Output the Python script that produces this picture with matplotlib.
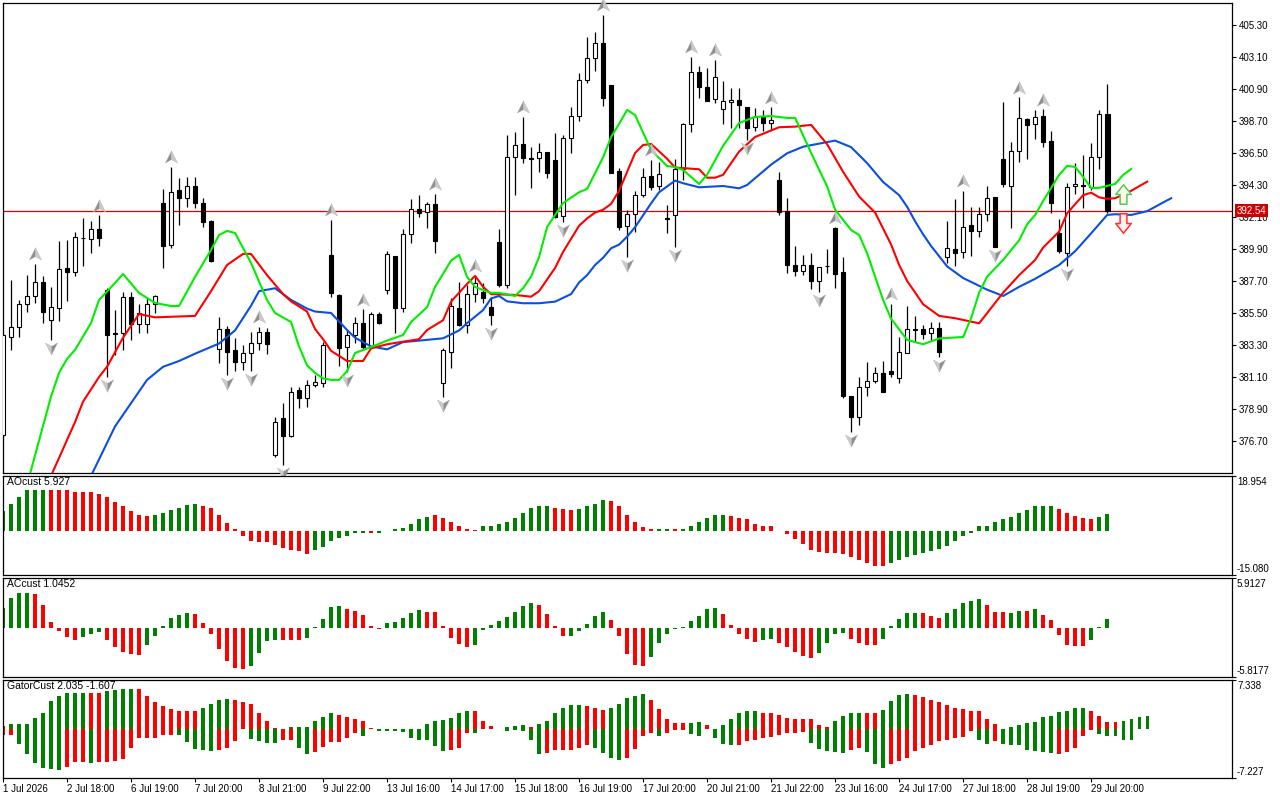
import numpy as np
import matplotlib
matplotlib.use("Agg")
import matplotlib.pyplot as plt
from matplotlib.path import Path
from matplotlib.transforms import ScaledTranslation, blended_transform_factory

plt.rcParams['font.family'] = ['Liberation Sans', 'DejaVu Sans']
plt.rcParams['font.size'] = 7

# ---------------- data ----------------
opens = [377.12, 383.88, 384.56, 386.12, 386.67, 387.61, 385.02, 385.82, 388.58, 388.35,
         390.64, 390.57, 391.26, 387.08, 384.10, 384.10, 386.58, 384.75, 384.75, 386.12,
         393.04, 390.18, 393.96, 393.39, 394.24, 393.09, 391.85, 383.03, 384.40, 382.96,
         382.16, 382.73, 383.42, 384.17, 375.74, 378.26, 377.05, 380.21, 379.64, 380.55,
         380.71, 389.49, 386.74, 383.19, 383.99, 384.79, 383.19, 385.41, 387.08, 389.42,
         385.82, 390.91, 392.63, 392.42, 392.99, 380.71, 382.84, 385.82, 384.68, 386.81,
         386.92, 385.94, 390.36, 387.43, 396.20, 397.10, 396.13, 396.13, 396.55, 396.02,
         392.17, 397.51, 399.07, 401.52, 403.01, 404.04, 401.18, 395.29, 391.51, 392.31,
         393.62, 394.92, 394.23, 392.06, 392.24, 395.38, 398.47, 402.05, 401.02, 400.19,
         399.51, 399.99, 400.12, 399.64, 398.31, 398.96, 398.59, 394.65, 392.52, 388.78,
         388.41, 388.78, 387.73, 388.71, 391.32, 388.30, 379.77, 378.38, 380.39, 380.83,
         381.36, 381.54, 381.01, 382.78, 384.34, 384.38, 384.11, 384.45, 389.33, 389.88,
         389.72, 391.55, 391.16, 392.31, 393.46, 396.09, 394.26, 396.64, 398.82, 398.47,
         399.05, 397.33, 390.98, 389.61, 394.21, 394.30, 394.19, 396.25, 399.16]
highs = [384.10, 387.77, 386.40, 388.12, 388.87, 388.05, 387.31, 390.48, 390.52, 391.07,
         392.01, 391.85, 392.22, 387.20, 385.71, 386.97, 386.97, 386.12, 386.51, 386.76,
         394.00, 395.56, 394.76, 394.83, 394.83, 393.39, 391.90, 385.25, 384.63, 383.76,
         383.30, 384.22, 384.56, 384.45, 378.38, 379.29, 380.44, 380.39, 380.90, 381.24,
         383.53, 391.90, 386.78, 384.33, 385.25, 385.75, 385.57, 385.59, 389.79, 389.45,
         391.25, 393.32, 393.61, 393.11, 393.68, 383.07, 386.51, 387.66, 387.43, 388.05,
         387.59, 386.62, 391.25, 397.74, 397.97, 399.00, 396.94, 397.17, 396.59, 397.85,
         397.74, 399.64, 402.02, 404.45, 404.84, 405.99, 401.18, 395.45, 392.59, 393.89,
         395.50, 396.02, 395.91, 392.93, 396.07, 398.59, 403.13, 402.49, 402.32, 402.90,
         401.45, 400.99, 400.99, 399.64, 399.57, 399.46, 399.64, 395.17, 393.39, 390.11,
         389.47, 389.61, 388.69, 389.88, 391.39, 389.38, 379.77, 381.13, 382.16, 381.81,
         382.20, 386.12, 383.88, 385.98, 385.30, 384.68, 384.91, 384.91, 391.83, 393.34,
         393.89, 392.81, 392.81, 394.24, 393.50, 400.03, 397.28, 400.33, 398.89, 399.42,
         399.51, 398.02, 391.94, 394.42, 395.79, 396.37, 397.21, 399.42, 401.25]
lows = [376.90, 382.96, 383.88, 385.55, 386.17, 384.79, 383.65, 384.98, 386.33, 388.07,
        388.76, 389.65, 390.11, 381.13, 382.62, 382.96, 383.65, 384.10, 384.10, 385.48,
        388.57, 389.95, 391.55, 392.77, 392.70, 391.44, 389.03, 382.04, 381.24, 381.54,
        381.58, 381.50, 382.96, 382.69, 375.63, 375.05, 376.96, 378.95, 379.06, 380.39,
        380.39, 386.62, 381.86, 381.47, 383.46, 382.96, 383.07, 384.74, 386.81, 384.15,
        385.59, 390.29, 392.08, 391.37, 389.60, 379.75, 381.70, 384.61, 384.10, 386.28,
        386.17, 384.68, 387.31, 387.20, 393.61, 395.79, 394.07, 395.22, 394.76, 392.01,
        391.78, 396.52, 398.72, 401.29, 402.16, 399.73, 395.10, 391.21, 389.38, 391.09,
        393.50, 393.96, 393.96, 390.98, 390.06, 394.65, 397.97, 400.26, 400.10, 399.96,
        398.50, 398.25, 398.25, 397.40, 398.04, 398.04, 398.09, 392.24, 388.23, 388.07,
        388.12, 387.13, 386.97, 388.28, 387.20, 379.64, 377.35, 377.80, 379.82, 380.67,
        380.10, 381.13, 380.67, 382.73, 383.53, 383.69, 383.65, 382.46, 388.92, 388.73,
        389.26, 389.42, 390.75, 391.85, 390.02, 394.14, 391.32, 395.91, 396.09, 397.47,
        396.94, 392.36, 389.65, 388.73, 393.69, 392.70, 393.96, 395.40, 392.40]
closes = [383.99, 384.56, 386.12, 386.67, 387.61, 385.55, 385.89, 388.53, 388.35, 390.71,
          390.66, 391.26, 390.64, 383.99, 384.06, 386.58, 384.75, 385.48, 386.12, 386.70,
          390.13, 393.85, 393.39, 394.24, 393.09, 391.78, 389.10, 384.40, 382.85, 382.16,
          382.73, 383.42, 384.17, 383.37, 378.03, 377.05, 380.10, 379.64, 380.55, 380.74,
          383.30, 386.85, 383.07, 383.99, 384.79, 383.19, 385.43, 384.84, 389.56, 385.82,
          390.91, 392.63, 392.35, 392.99, 390.47, 382.96, 385.98, 384.68, 386.81, 387.59,
          386.56, 385.36, 387.43, 396.20, 397.05, 396.13, 396.09, 396.55, 395.15, 392.08,
          397.51, 399.07, 401.52, 403.01, 404.04, 400.26, 395.15, 391.44, 392.31, 393.62,
          394.88, 394.19, 395.04, 391.94, 395.38, 398.47, 402.05, 401.02, 400.10, 401.75,
          400.08, 400.15, 399.78, 398.25, 398.96, 398.54, 398.77, 392.47, 388.80, 388.41,
          388.78, 387.73, 388.64, 388.76, 388.16, 379.82, 378.38, 380.39, 380.83, 381.36,
          380.10, 381.29, 382.80, 384.38, 384.40, 384.06, 384.45, 382.85, 389.95, 389.65,
          391.39, 391.16, 392.31, 393.39, 390.02, 394.37, 396.64, 398.89, 398.43, 398.96,
          397.24, 393.04, 389.77, 394.14, 394.35, 394.21, 396.25, 399.16, 392.54]

bid_price = 392.54

# Alligator lines (bar index, price)
lips_x = [3, 6, 7, 8, 9, 11, 12, 14, 15, 17, 19, 21, 22, 24, 26, 27, 28, 29, 31, 33,
          34, 36, 37, 38, 39, 40, 41, 42, 43, 44, 46, 48, 50, 51, 53, 54, 56, 57, 58, 59,
          61, 62, 64, 65, 66, 67, 68, 70, 72, 73, 75, 76, 77, 78, 79, 80, 81, 83, 84, 85,
          87, 88, 90, 92, 94, 96, 98, 99, 101, 103, 104, 106, 107, 108, 110, 111, 113, 115,
          117, 120, 121, 122, 123, 125, 127, 128, 129, 130, 132, 133, 134, 135, 136, 137,
          139, 140, 141]
lips = [373.68, 379.75, 381.38, 382.34, 382.96, 384.81, 386.39, 387.56, 388.18, 386.88,
        386.19, 385.98, 385.98, 387.98, 389.83, 390.86, 391.14, 391.0, 388.94, 386.39,
        385.5, 384.88, 383.2, 381.9, 381.38, 381.0, 380.9, 380.9, 381.5, 382.75,
        383.16, 383.6, 383.99, 384.88, 385.9, 387.29, 389.1, 389.49, 387.98, 387.29,
        386.88, 386.88, 386.67, 387.2, 388.0, 389.35, 391.41, 393.06, 393.8, 394.03,
        396.2, 397.6, 398.5, 399.46, 399.11, 397.9, 396.71, 395.6, 395.54, 395.33,
        394.37, 395.0, 397.0, 398.56, 398.98, 399.04, 398.91, 398.91, 396.5, 394.2,
        392.6, 391.2, 390.86, 389.6, 386.39, 385.1, 383.65, 383.35, 383.75, 383.85,
        385.16, 386.9, 388.0, 389.15, 390.5, 391.6, 392.24, 393.2, 395.0, 395.61,
        395.54, 394.85, 394.09, 394.1, 394.37, 394.99, 395.4]
teeth_x = [6, 9, 10, 12, 13, 15, 17, 19, 24, 26, 28, 30, 31, 33, 35, 36, 38, 39, 40, 41,
           43, 45, 46, 48, 52, 53, 55, 56, 58, 59, 60, 61, 64, 66, 67, 68, 69, 70, 72, 73,
           74, 75, 76, 77, 78, 79, 80, 81, 83, 84, 87, 88, 89, 90, 92, 94, 97, 99, 101, 103,
           105, 107, 109, 110, 111, 112, 113, 114, 115, 117, 119, 122, 124, 125, 127, 129,
           130, 132, 133, 135, 136, 137, 138, 139, 141, 143]
teeth = [374.3, 378.0, 379.4, 381.1, 381.8, 383.8, 385.43, 385.2, 385.3, 387.0,
         388.8, 389.56, 389.56, 388.1, 386.8, 386.3, 385.6, 384.4, 383.7, 382.9,
         382.2, 382.2, 383.07, 383.35, 383.7, 384.33, 385.0, 386.28, 387.5, 388.05,
         387.3, 386.8, 386.74, 386.62, 387.0, 387.8, 388.6, 389.7, 391.5, 392.0,
         392.4, 392.6, 393.0, 393.9, 395.2, 396.5, 397.05, 397.12, 396.1, 395.5,
         395.38, 394.8, 394.8, 395.0, 396.6, 397.6, 398.27, 398.31, 398.43, 397.1,
         395.2, 393.5, 392.4, 391.3, 390.2, 388.8, 387.7, 386.9, 386.1, 385.3,
         385.14, 384.79, 386.2, 386.9, 388.1, 389.15, 390.0, 391.1, 392.36, 393.6,
         393.77, 393.45, 393.35, 393.39, 393.9, 394.53]
jaw_x = [11, 14, 16, 18, 20, 22, 24, 27, 29, 31, 32, 34, 36, 38, 39, 41, 43, 44, 46, 48,
         50, 52, 55, 57, 58, 60, 61, 62, 63, 65, 67, 69, 71, 72, 73, 74, 75, 76, 77, 78,
         79, 81, 82, 84, 85, 87, 90, 92, 93, 96, 98, 100, 103, 104, 106, 108, 110, 112,
         113, 114, 115, 116, 118, 120, 123, 125, 127, 129, 132, 134, 136, 138, 139, 141,
         143, 145, 146]
jaw = [374.3, 377.7, 379.3, 380.9, 381.8, 382.2, 382.7, 383.4, 384.3, 386.0,
       387.0, 387.2, 386.4, 385.8, 385.6, 385.5, 384.33, 383.8, 383.2, 383.0,
       383.5, 383.6, 383.76, 384.3, 384.8, 385.7, 386.5, 386.67, 386.3, 386.17,
       386.17, 386.28, 386.8, 387.6, 388.1, 388.8, 389.3, 389.95, 390.2, 390.75,
       391.4, 393.04, 393.8, 394.6, 394.42, 394.14, 394.23, 394.07, 394.3, 395.7,
       396.48, 396.93, 397.25, 397.35, 396.9, 395.8, 394.5, 393.6, 392.8, 391.8,
       390.9, 390.1, 388.7, 387.9, 387.1, 386.67, 387.3, 387.85, 388.8, 389.75,
       390.98, 392.24, 392.29, 392.24, 392.5, 393.1, 393.39]

frac_up_idx = [4, 12, 21, 32, 41, 45, 54, 59, 65, 75, 81, 86, 89, 96, 104, 111, 120, 127, 130]
frac_dn_idx = [6, 13, 28, 31, 35, 43, 55, 61, 70, 78, 84, 93, 102, 106, 117, 124, 133]

signal_idx = 140
signal_up_price = 393.68
signal_dn_price = 391.66

price_ticks = [405.30, 403.10, 400.90, 398.70, 396.50, 394.30, 392.10, 389.90,
               387.70, 385.50, 383.30, 381.10, 378.90, 376.70]
price_range = (374.50, 406.81)

ao = [6.9, 9.2, 11.7, 14.1, 14.1, 14.1, 14.1, 14.1, 14.3, 13.4,
      13.4, 13.4, 12.9, 11.6, 9.9, 8.5, 6.9, 5.4, 5.2, 5.4,
      6.1, 7.2, 7.9, 8.9, 9.5, 8.8, 7.9, 5.7, 2.7, 0.7,
      -1.7, -3.4, -3.8, -3.8, -4.8, -5.8, -6.6, -7.0, -7.7, -6.5,
      -5.5, -3.4, -2.4, -1.7, -0.7, -0.5, -0.7, -0.7, 0.2, 0.6,
      1.1, 2.6, 4.1, 4.8, 5.4, 4.5, 3.3, 1.9, 0.9, 0.3,
      1.6, 1.6, 2.3, 3.0, 4.5, 6.1, 7.8, 8.8, 8.8, 8.1,
      7.6, 7.3, 7.6, 8.5, 9.5, 10.7, 10.3, 8.5, 5.7, 3.3,
      1.5, 0.7, 0.7, 0.7, 0.7, 0.9, 1.9, 3.0, 4.5, 5.4,
      5.7, 5.2, 4.6, 4.1, 2.6, 1.9, 1.6, 0.2, -0.9, -2.6,
      -4.5, -6.5, -7.2, -7.6, -7.6, -8.0, -8.8, -9.9, -11.0, -12.0,
      -12.0, -11.0, -9.9, -9.0, -8.1, -7.4, -6.9, -6.3, -5.2, -3.4,
      -1.7, -0.5, 1.6, 1.9, 3.0, 4.1, 4.9, 6.2, 7.2, 8.5,
      8.8, 8.8, 7.6, 6.1, 5.2, 4.5, 4.1, 5.0, 5.93]
ao_colors = ("gggggg" "rrrrrrrrrrrrr" "gggggg" "rrrrrrrrrrrrrr" "ggggggg" "r" "ggggggg"
             "rrrrrr" "ggggggggg" "rrr" "gggg" "rrrrrr" "gg" "r" "gggggg"
             "rrrrrrrrrrrrrrrrrrrr" "ggggggggggggggggggggg" "rrrrr" "gg")
ao_range = (-15.080, 18.954)
ao_title = "AOcust 5.927"

ac = [2.37, 3.56, 4.15, 4.15, 4.03, 2.73, 0.71, -0.32, -1.07, -1.38,
      -1.07, -0.67, -0.43, -1.38, -2.25, -2.81, -3.04, -3.2, -1.98, -0.91,
      0.24, 1.19, 1.58, 1.82, 1.66, 0.63, -0.67, -2.45, -3.87, -4.74,
      -4.82, -4.5, -2.92, -1.5, -1.38, -1.38, -1.38, -1.38, -1.19, 0.08,
      1.11, 2.45, 2.61, 2.25, 2.02, 1.54, 0.24, -0.08, 0.63, 0.71,
      1.19, 1.82, 2.13, 1.9, 1.9, 0.24, -1.19, -1.9, -2.25, -2.02,
      -0.2, 0.32, 0.87, 1.34, 1.9, 2.61, 3.0, 2.77, 1.7, 0.24,
      -0.91, -0.91, -0.32, 0.47, 1.42, 1.94, 0.95, -0.91, -3.08, -4.39,
      -4.5, -3.4, -1.74, -0.71, -0.08, 0.16, 0.83, 1.42, 2.29, 2.37,
      1.66, 0.36, -0.71, -1.3, -1.62, -1.46, -1.3, -1.78, -2.25, -2.81,
      -3.32, -3.52, -2.92, -1.82, -0.67, -0.55, -1.3, -1.74, -1.98, -1.98,
      -1.3, 0.24, 1.11, 1.74, 1.82, 1.82, 1.42, 1.19, 1.74, 2.29,
      2.92, 3.24, 3.48, 2.77, 1.9, 1.9, 1.82, 2.06, 2.06, 2.29,
      1.58, 0.95, -0.79, -1.98, -2.13, -2.13, -1.42, 0.16, 1.05]
ac_colors = ("gggg" "rrrrrr" "ggg" "rrrrr" "gggggg" "rrrrrrr" "gggg" "rrr" "ggggg" "rrrrr"
             "ggggg" "rrrrrr" "gggggggg" "rrrr" "ggggg" "rrrrr" "ggggggggg" "rrrrr" "gg"
             "rrrrr" "gggg" "rrrr" "ggggg" "rrr" "ggggg" "rrr" "gg" "r" "g" "rrrrrr" "ggg")
ac_range = (-5.8177, 5.9127)
ac_title = "ACcust 1.0452"

gator_up = [0.5, 0.8, 0.8, 0.8, 1.7, 2.5, 4.2, 4.9, 5.4, 5.4,
            5.4, 5.4, 5.4, 5.7, 5.9, 6.0, 6.0, 6.0, 5.0, 4.0,
            3.5, 3.1, 2.8, 2.7, 2.7, 3.2, 3.8, 4.4, 4.5, 4.4,
            4.1, 3.7, 2.4, 1.2, 0.15, 0.0, 0.3, 0.3, 0.3, 1.2,
            1.9, 2.4, 2.1, 1.9, 1.5, 1.3, 0.2, 0.0, 0.0, 0.0,
            0.0, 0.0, 0.0, 0.8, 1.3, 1.4, 1.7, 2.5, 2.8, 2.8,
            1.3, 0.5, 0.1, 0.4, 0.5, 0.6, 0.4, 0.8, 1.3, 2.4,
            3.2, 3.6, 3.6, 3.4, 3.2, 2.9, 3.2, 3.7, 4.6, 5.0,
            5.2, 4.4, 3.1, 1.6, 0.9, 0.9, 1.0, 1.1, 0.7, 0.0,
            0.6, 1.5, 2.5, 2.7, 2.8, 2.5, 2.4, 2.1, 1.7, 1.6,
            1.5, 1.5, 0.6, 0.3, 1.2, 2.0, 2.5, 2.5, 2.5, 2.5,
            2.9, 4.2, 5.1, 5.3, 5.1, 4.8, 4.3, 4.0, 3.6, 3.2,
            3.0, 2.7, 2.7, 1.6, 0.8, 0.1, 0.4, 0.6, 1.0, 1.1,
            1.8, 2.0, 2.6, 2.8, 3.2, 3.2, 2.8, 2.0, 1.1, 1.1,
            1.3, 1.6, 1.8, 2.04]
gator_up_colors = ("r" "gggggggggg" "rr" "gggg" "rrrrrrrr" "gggg" "rrrrrrr" "gggggg" "rrrrrr"
                   "ggggggggggg" "rrr" "gggg" "r" "gggggg" "rrr" "ggggg" "rrrrr" "gg" "rr"
                   "ggggg" "rrrrrrrrr" "gggg" "rr" "gggg" "rrrrrrrrrrr" "ggggggggggg" "rrrr" "gggg")
gator_dn = [-0.9, -0.8, -2.2, -3.6, -5.0, -5.7, -5.9, -6.0, -5.6, -4.8,
            -4.8, -5.0, -4.8, -4.8, -4.7, -4.4, -2.8, -1.3, -1.3, -1.3,
            -0.9, -0.9, -0.8, -1.9, -2.9, -3.0, -3.2, -3.1, -2.8, -1.8,
            0.0, -1.5, -1.8, -2.0, -2.0, -1.6, -1.6, -2.8, -3.6, -3.3,
            -2.6, -1.9, -1.9, -1.3, -0.6, -1.0, 0.0, -0.2, -0.3, -0.3,
            -0.4, -1.3, -1.6, -1.6, -2.4, -3.2, -3.1, -2.8, -0.6, -0.6,
            0.0, 0.0, 0.0, -0.2, -0.1, -0.3, -1.6, -3.6, -3.5, -3.1,
            -3.1, -3.0, -2.7, -2.3, -2.8, -3.5, -4.3, -4.5, -4.3, -2.9,
            -1.0, -0.6, -1.0, -0.5, -0.1, -0.1, -0.7, -1.0, 0.0, -1.3,
            -2.2, -2.3, -2.3, -1.8, -1.6, -1.3, -1.1, -0.8, -0.6, -0.5,
            -0.4, -2.0, -2.9, -3.2, -3.3, -3.5, -3.0, -2.8, -3.3, -5.1,
            -5.7, -5.1, -4.7, -4.2, -3.2, -2.7, -2.3, -1.8, -1.6, -1.3,
            -1.2, -0.3, -1.6, -2.1, -1.8, -2.1, -2.3, -2.3, -3.0, -3.2,
            -3.3, -3.5, -3.7, -3.4, -2.7, -1.0, -0.1, -0.7, -1.0, -1.0,
            -1.6, -1.61]
gator_dn_colors = ("rr" "gggggg" "rrr" "g" "rrrrrrrrrr" "ggggg" "rrrr" "gggg" "rr" "gg" "rrrrrr"
                   "g" "r" "ggggggggg" "rrr" "g" "rrr" "ggggg" "rrrrrr" "gggg" "rrrr" "g" "rrr"
                   "gg" "r" "ggg" "rrrrrrrrr" "ggggg" "rr" "ggg" "rrrrrrrrrrr" "gg" "r" "ggggggg"
                   "rrrrr" "ggggg")
gator_range = (-7.227, 7.338)
gator_title = "GatorCust 2.035 -1.607"

time_labels = ["1 Jul 2026", "2 Jul 18:00", "6 Jul 19:00", "7 Jul 20:00", "8 Jul 21:00",
               "9 Jul 22:00", "13 Jul 16:00", "14 Jul 17:00", "15 Jul 18:00", "16 Jul 19:00",
               "17 Jul 20:00", "20 Jul 21:00", "21 Jul 22:00", "23 Jul 16:00", "24 Jul 17:00",
               "27 Jul 18:00", "28 Jul 19:00", "29 Jul 20:00"]
time_label_idx = [0, 8, 16, 24, 32, 40, 48, 56, 64, 72, 80, 88, 96, 104, 112, 120, 128, 136]

# ---------------- figure ----------------
W, H = 1280, 800
fig = plt.figure(figsize=(W / 100, H / 100), dpi=100)


def rect(x0, y0, x1, y1):
    return [x0 / W, 1 - y1 / H, (x1 - x0) / W, (y1 - y0) / H]


ax_main = fig.add_axes(rect(3, 3, 1232, 473))
ax_ao = fig.add_axes(rect(3, 476, 1232, 575))
ax_ac = fig.add_axes(rect(3, 578, 1232, 677))
ax_g = fig.add_axes(rect(3, 680, 1232, 778))

XLIM = (0.0, 153.6)
for ax in (ax_main, ax_ao, ax_ac, ax_g):
    ax.set_xlim(*XLIM)
    for sp in ax.spines.values():
        sp.set_color('black')
        sp.set_linewidth(0.9)
    ax.tick_params(axis='x', bottom=False, labelbottom=False)
    ax.tick_params(axis='y', left=False, labelleft=False, right=True, labelright=True,
                   direction='out', length=3, width=0.8, pad=2, labelsize=7, colors='black')

# ---- main chart ----
o = np.array(opens); h = np.array(highs); l = np.array(lows); c = np.array(closes)
x = np.arange(len(o))
bull = c >= o
ax_main.set_ylim(*price_range)
ax_main.set_yticks(price_ticks)
ax_main.set_yticklabels([f"{v:.2f}" for v in price_ticks])

ax_main.axhline(bid_price, color='#e00000', lw=0.9, zorder=1)
ax_main.vlines(x, l, h, color='black', lw=0.9, zorder=2)
body_lo = np.minimum(o, c)
body_h = np.maximum(np.abs(c - o), 0.03)
ax_main.bar(x, body_h, bottom=body_lo, width=0.58,
            color=np.where(bull, 'white', 'black'), edgecolor='black', linewidth=0.8, zorder=3)

ax_main.plot(jaw_x, jaw, color='#0a4fe0', lw=1.5, zorder=4, solid_joinstyle='round')
ax_main.plot(teeth_x, teeth, color='#ff0000', lw=1.5, zorder=4, solid_joinstyle='round')
ax_main.plot(lips_x, lips, color='#00ee00', lw=1.5, zorder=4, solid_joinstyle='round')

# fractal arrows (two-tone arrowheads)
left_half = Path([(0, 1), (-0.8, -0.6), (0, -0.15), (0, 1)],
                 [Path.MOVETO, Path.LINETO, Path.LINETO, Path.CLOSEPOLY])
right_half = Path([(0, 1), (0, -0.15), (0.8, -0.6), (0, 1)],
                  [Path.MOVETO, Path.LINETO, Path.LINETO, Path.CLOSEPOLY])
flip = lambda p: Path(p.vertices * np.array([1, -1]), p.codes)
up_off = ax_main.transData + ScaledTranslation(0, 8.5 / 100, fig.dpi_scale_trans)
dn_off = ax_main.transData + ScaledTranslation(0, -7 / 100, fig.dpi_scale_trans)
fu = np.array(frac_up_idx); fd = np.array(frac_dn_idx)
for path, col in ((left_half, '#8e8e8e'), (right_half, '#c9c9c9')):
    ax_main.plot(fu, h[fu], ls='none', marker=path, ms=11, mfc=col, mec='#b8b8b8',
                 mew=0.3, transform=up_off, zorder=5, clip_on=False)
for path, col in ((left_half, '#c9c9c9'), (right_half, '#8e8e8e')):
    ax_main.plot(fd, l[fd], ls='none', marker=flip(path), ms=11, mfc=col, mec='#b8b8b8',
                 mew=0.3, transform=dn_off, zorder=5, clip_on=False)

# signal block arrows
block_up = Path([(-0.35, -1), (0.35, -1), (0.35, 0), (0.8, 0), (0, 1), (-0.8, 0),
                 (-0.35, 0), (-0.35, -1)],
                [Path.MOVETO] + [Path.LINETO] * 6 + [Path.CLOSEPOLY])
ax_main.plot([signal_idx], [signal_up_price], ls='none', marker=block_up, ms=14,
             mfc='#fbfbe8', mec='#58c858', mew=1.1, zorder=6)
ax_main.plot([signal_idx], [signal_dn_price], ls='none', marker=flip(block_up), ms=14,
             mfc='#fff0f0', mec='#ff3030', mew=1.1, zorder=6)

# bid price label
ax_main.annotate(f"{bid_price:.2f}", xy=(1.0, bid_price),
                 xycoords=blended_transform_factory(ax_main.transAxes, ax_main.transData),
                 xytext=(3.3, 0), textcoords='offset points', ha='left', va='center',
                 fontsize=7, color='white', annotation_clip=False, zorder=20,
                 bbox=dict(boxstyle='square,pad=0.18', fc='#d00000', ec='none'))

# ---- sub panels ----
cmap = {'g': '#008000', 'r': '#ff0000'}


def sub_panel(ax, values, colors, rng, title):
    vals = np.array(values)
    ax.bar(np.arange(len(vals)), vals, width=0.42,
           color=[cmap[ch] for ch in colors[:len(vals)]], linewidth=0)
    ax.set_ylim(*rng)
    ax.set_yticks([rng[0], rng[1]])
    ax.set_yticklabels([])
    ax.text(0.003, 0.985, title, transform=ax.transAxes, ha='left', va='top', fontsize=7.5)


def range_labels(ax, lo_txt, hi_txt):
    ax.annotate(hi_txt, xy=(1, 1), xycoords='axes fraction', xytext=(3.6, -0.5),
                textcoords='offset points', ha='left', va='top', fontsize=7,
                annotation_clip=False)
    ax.annotate(lo_txt, xy=(1, 0), xycoords='axes fraction', xytext=(3.6, 0.5),
                textcoords='offset points', ha='left', va='bottom', fontsize=7,
                annotation_clip=False)


sub_panel(ax_ao, ao, ao_colors, ao_range, ao_title)
range_labels(ax_ao, f"{ao_range[0]:.3f}", f"{ao_range[1]:.3f}")
sub_panel(ax_ac, ac, ac_colors, ac_range, ac_title)
range_labels(ax_ac, f"{ac_range[0]:.4f}", f"{ac_range[1]:.4f}")

gu = np.array(gator_up); gd = np.array(gator_dn)
ax_g.bar(np.arange(len(gu)), gu, width=0.42,
         color=[cmap[ch] for ch in gator_up_colors[:len(gu)]], linewidth=0)
ax_g.bar(np.arange(len(gd)), gd, width=0.42,
         color=[cmap[ch] for ch in gator_dn_colors[:len(gd)]], linewidth=0)
ax_g.set_ylim(*gator_range)
ax_g.set_yticks([gator_range[0], gator_range[1]])
ax_g.set_yticklabels([])
ax_g.text(0.003, 0.985, gator_title, transform=ax_g.transAxes, ha='left', va='top', fontsize=7.5)
range_labels(ax_g, f"{gator_range[0]:.3f}", f"{gator_range[1]:.3f}")

ax_g.set_xticks(time_label_idx)
ax_g.set_xticklabels(time_labels)
ax_g.tick_params(axis='x', bottom=True, labelbottom=True, direction='out', length=3,
                 width=0.8, pad=1.5, labelsize=7)
for lbl in ax_g.get_xticklabels():
    lbl.set_horizontalalignment('left')

fig.savefig("out.png", dpi=100, facecolor='white')
